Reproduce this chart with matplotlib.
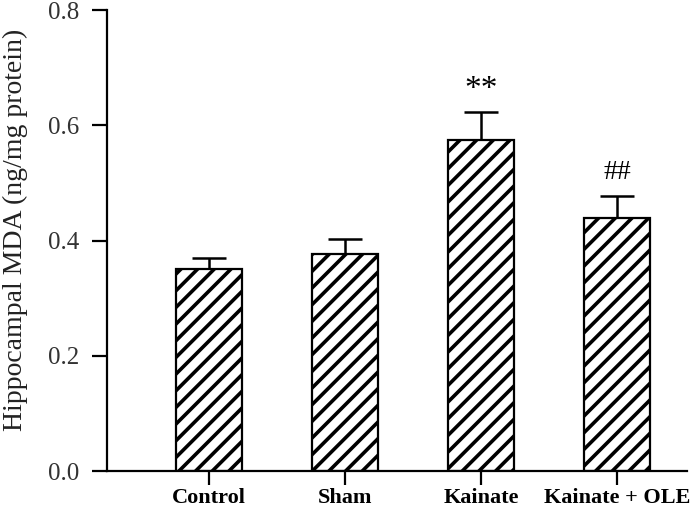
import numpy as np
import matplotlib
matplotlib.use('Agg')
import matplotlib.pyplot as plt

groups = ['Control', 'Sham', 'Kainate', 'Kainate + OLE']
mda = [0.351, 0.377, 0.574, 0.440]
sem = [0.019, 0.026, 0.050, 0.038]
marks = ['', '', '**', '##']

plt.rcParams['font.family'] = ['Liberation Serif', 'DejaVu Serif']
plt.rcParams['hatch.linewidth'] = 2.6

fig = plt.figure(figsize=(6.94, 5.11), dpi=100)
ax = fig.add_axes([0.154, 0.078, 0.836, 0.902])

x = np.arange(len(groups))
ax.bar(x, mda, width=0.485, color='white', edgecolor='black', linewidth=1.6,
       hatch='//', zorder=2)
ax.errorbar(x, mda, yerr=[np.zeros(len(sem)), sem], fmt='none', ecolor='black',
            elinewidth=1.8, capsize=12, capthick=1.8, zorder=1)

for xi, m, s, t in zip(x, mda, sem, marks):
    if t == '**':
        ax.text(xi, m + s + 0.012, t, ha='center', va='bottom', fontsize=24)
    elif t:
        ax.text(xi, m + s + 0.018, t, ha='center', va='bottom', fontsize=20)

ax.set_xlim(-0.75, 3.515)
ax.set_ylim(0, 0.8)
ax.set_yticks([0.0, 0.2, 0.4, 0.6, 0.8])
ax.set_yticklabels(['0.0', '0.2', '0.4', '0.6', '0.8'], fontsize=18, color='#333333')
ax.set_xticks(x)
ax.set_xticklabels(groups, fontsize=16, fontweight='bold')
ax.set_ylabel('Hippocampal MDA (ng/mg protein)', fontsize=20, color='#222222')
ax.yaxis.set_label_coords(-0.136, 0.523)

for side in ['top', 'right']:
    ax.spines[side].set_visible(False)
for side in ['left', 'bottom']:
    ax.spines[side].set_linewidth(1.6)
ax.tick_params(axis='y', length=11, width=1.6, pad=9)
ax.tick_params(axis='x', length=10, width=1.6, pad=2)

fig.savefig('out.png', dpi=100)
